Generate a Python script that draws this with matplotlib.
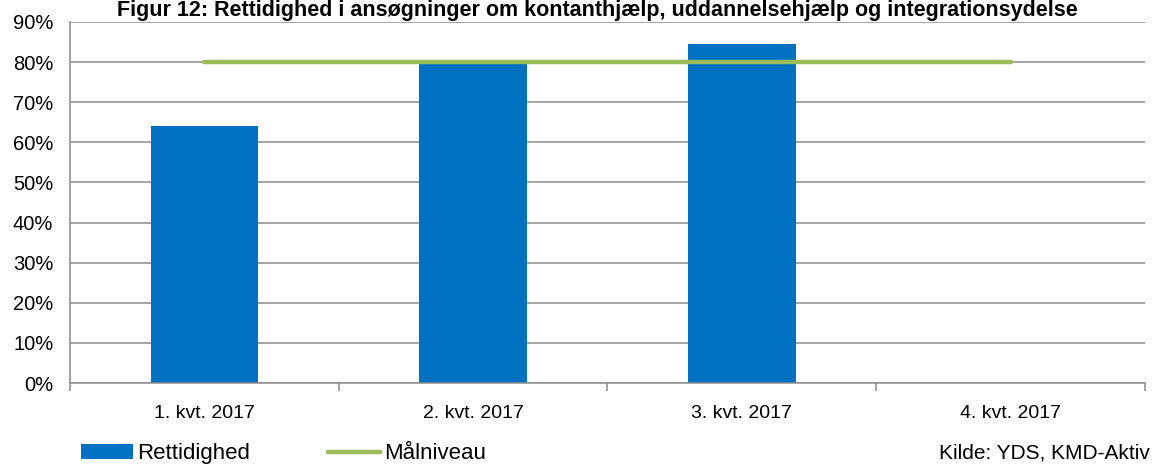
import matplotlib.pyplot as plt
import numpy as np
from matplotlib.patches import Patch
from matplotlib.lines import Line2D

plt.rcParams['font.family'] = ['Liberation Sans', 'DejaVu Sans']

categories = ["1. kvt. 2017", "2. kvt. 2017", "3. kvt. 2017", "4. kvt. 2017"]
rettidighed = [64.1, 79.7, 84.4, np.nan]
maalniveau = [80, 80, 80, 80]

title = "Figur 12: Rettidighed i ansøgninger om kontanthjælp, uddannelsehjælp og integrationsydelse"
source = "Kilde: YDS, KMD-Aktiv"

fig = plt.figure(figsize=(11.53, 4.66), dpi=100)
ax = fig.add_axes([0.0607, 0.178, 0.9323, 0.775])

x = np.arange(len(categories))
ax.bar(x, rettidighed, width=0.4, color="#0070C0", zorder=2)
ax.plot(x, maalniveau, color="#9BBB59", lw=3.2, solid_capstyle="round", zorder=3)

ax.set_xlim(-0.5, len(categories) - 0.5)
ax.set_ylim(0, 90)
ax.set_yticks(np.arange(0, 91, 10))
ax.set_yticklabels([f"{v}%" for v in range(0, 91, 10)], fontsize=14.5)
ax.yaxis.grid(True, color="#8c8c8c", lw=1.1, zorder=0)
ax.tick_params(axis="y", length=0, pad=12)

ax.set_xticks(x)
ax.set_xticklabels(categories, fontsize=14)
ax.tick_params(axis="x", length=0, pad=16)
ax.set_xticks(np.arange(-0.5, len(categories)), minor=True)
ax.tick_params(axis="x", which="minor", length=6, color="#8c8c8c", width=1.1)

for s in ["top", "right"]:
    ax.spines[s].set_visible(False)
for s in ["left", "bottom"]:
    ax.spines[s].set_color("#8c8c8c")
    ax.spines[s].set_linewidth(1.1)

fig.text(0.518, 0.966, title, ha="center", va="baseline", fontsize=15.5, fontweight="bold")

handles = [Patch(facecolor="#0070C0", edgecolor="none"),
           Line2D([0], [0], color="#9BBB59", lw=3.2, solid_capstyle="round")]
fig.legend(handles, ["Rettidighed", "Målniveau"], loc="center left",
           bbox_to_anchor=(0.0703, 0.026), ncol=2, frameon=False, fontsize=16,
           borderpad=0, borderaxespad=0,
           handlelength=2.34, handleheight=0.6, handletextpad=0.18, columnspacing=3.5)

fig.text(0.997, 0.028, source, ha="right", va="center", fontsize=15)

fig.savefig("out.png", dpi=100)
